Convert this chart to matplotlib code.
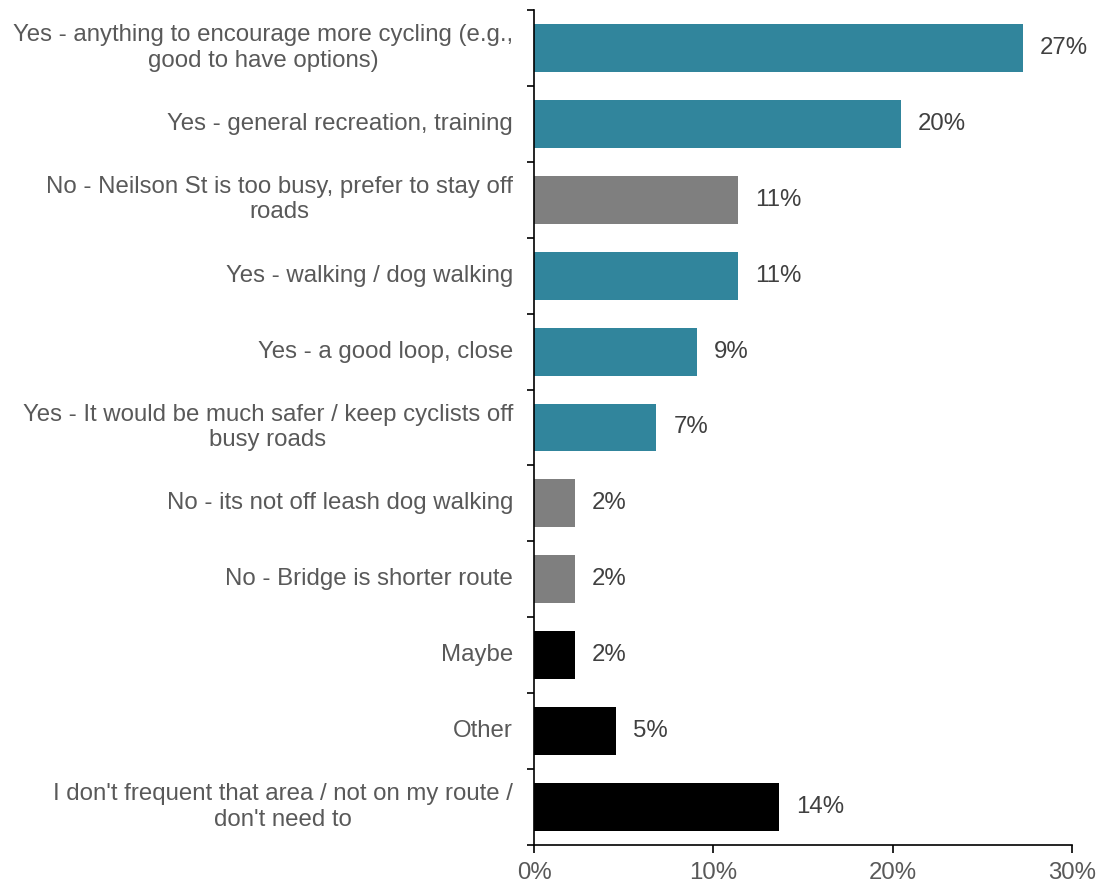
import matplotlib
matplotlib.use("Agg")
import matplotlib.pyplot as plt
from matplotlib import font_manager, transforms
import numpy as np

categories = [
    "Yes - anything to encourage more cycling (e.g.,\ngood to have options)",
    "Yes - general recreation, training",
    "No - Neilson St is too busy, prefer to stay off\nroads",
    "Yes - walking / dog walking",
    "Yes - a good loop, close",
    "Yes - It would be much safer / keep cyclists off\nbusy roads",
    "No - its not off leash dog walking",
    "No - Bridge is shorter route",
    "Maybe",
    "Other",
    "I don't frequent that area / not on my route /\ndon't need to",
]
values = [27.27, 20.45, 11.36, 11.36, 9.09, 6.82, 2.27, 2.27, 2.27, 4.55, 13.64]
groups = ["yes", "yes", "no", "yes", "yes", "yes", "no", "no", "other", "other", "other"]
group_colors = {"yes": "#31859C", "no": "#7F7F7F", "other": "#000000"}
x_ticks = [0, 10, 20, 30]

# pick the regular-width Liberation Sans face explicitly
font_path = font_manager.findfont(
    font_manager.FontProperties(family="Liberation Sans", stretch="normal"))
fp = font_manager.FontProperties(fname=font_path, size=17.3)

fig = plt.figure(figsize=(10.99, 8.85), dpi=100)
ax = fig.add_axes([0.486, 0.0452, 0.4895, 0.9435])

n = len(categories)
pos = np.arange(n)
ax.barh(pos, values, height=0.63, color=[group_colors[g] for g in groups])

for p, v in zip(pos, values):
    ax.text(v + 0.95, p, f"{v:.0f}%", va="center", ha="left",
            fontproperties=fp, color="#404040")

ax.set_ylim(n - 0.5, -0.5)
ax.set_xlim(0, 30)
ax.set_yticks(np.arange(-0.5, n, 1.0))
ax.set_yticklabels([])
ax.tick_params(axis="y", which="major", length=5, width=1.2, direction="out")

ax.set_xticks(x_ticks)
ax.set_xticklabels([f"{t}%" for t in x_ticks], fontproperties=fp, color="#595959")
ax.tick_params(axis="x", length=6, width=1.2, direction="out", pad=6)

for s in ["top", "right"]:
    ax.spines[s].set_visible(False)
for s in ["left", "bottom"]:
    ax.spines[s].set_linewidth(1.2)
    ax.spines[s].set_color("black")

# category labels: centred multi-line blocks whose widest line ends just left of the axis
fig.canvas.draw()
renderer = fig.canvas.get_renderer()
trans = transforms.blended_transform_factory(transforms.IdentityTransform(), ax.transData)
axis_left_px = ax.transAxes.transform((0, 0))[0]
for p, cat in zip(pos, categories):
    t = ax.text(0, p, cat, fontproperties=fp, color="#595959",
                ha="center", va="center", multialignment="center",
                linespacing=1.2, transform=trans, clip_on=False)
    w = t.get_window_extent(renderer).width
    t.set_x(axis_left_px - 21 - w / 2)

fig.savefig("out.png", dpi=100)
